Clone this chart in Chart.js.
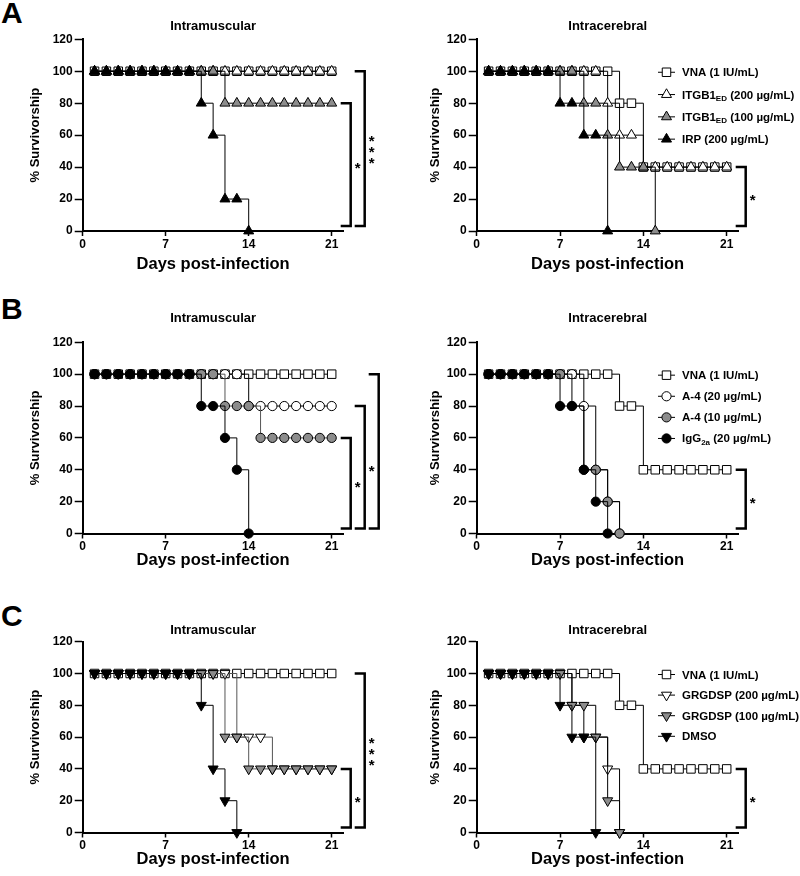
<!DOCTYPE html>
<html>
<head>
<meta charset="utf-8">
<script src="https://cdn.jsdelivr.net/npm/chart.js@4.4.0/dist/chart.umd.min.js"></script>
<style>
  body { margin: 0; background: #fff; }
  #fig { position: relative; width: 800px; height: 876px; overflow: hidden; background: #fff; }
  #fig canvas { position: absolute; }
  .letter { position: absolute; left: 1px; font: bold 30px "Liberation Sans", Arial, sans-serif; line-height: 1; color: #000; }
</style>
</head>
<body>
<div id="fig">
  <div class="letter" style="top:-2px">A</div>
  <div class="letter" style="top:294px">B</div>
  <div class="letter" style="top:601px">C</div>
  <canvas id="aIm" width="400" height="285" style="left:0;top:0"></canvas>
  <canvas id="aIc" width="400" height="285" style="left:400px;top:0"></canvas>
  <canvas id="bIm" width="400" height="295" style="left:0;top:285px"></canvas>
  <canvas id="bIc" width="400" height="295" style="left:400px;top:285px"></canvas>
  <canvas id="cIm" width="400" height="296" style="left:0;top:580px"></canvas>
  <canvas id="cIc" width="400" height="296" style="left:400px;top:580px"></canvas>
</div>
<script>
const FONT = '"Liberation Sans", Arial, Helvetica, sans-serif';
Chart.defaults.font.family = FONT;
Chart.defaults.color = '#000';

// x values and tick labels
const days = [1, 2, 3, 4, 5, 6, 7, 8, 9, 10, 11, 12, 13, 14, 15, 16, 17, 18, 19, 20, 21];
const xTicks = [0, 7, 14, 21];
const yTicks = [0, 20, 40, 60, 80, 100, 120];

// Panel A - ITGB1 ectodomain
const aLabels = ['VNA (1 IU/mL)', 'ITGB1_{ED} (200 µg/mL)', 'ITGB1_{ED} (100 µg/mL)', 'IRP (200 µg/mL)'];
const aImVna = [100, 100, 100, 100, 100, 100, 100, 100, 100, 100, 100, 100, 100, 100, 100, 100, 100, 100, 100, 100, 100];
const aImItgb200 = [100, 100, 100, 100, 100, 100, 100, 100, 100, 100, 100, 100, 100, 100, 100, 100, 100, 100, 100, 100, 100];
const aImItgb100 = [100, 100, 100, 100, 100, 100, 100, 100, 100, 100, 100, 80, 80, 80, 80, 80, 80, 80, 80, 80, 80];
const aImIrp = [100, 100, 100, 100, 100, 100, 100, 100, 100, 80, 60, 20, 20, 0];
const aIcVna = [100, 100, 100, 100, 100, 100, 100, 100, 100, 100, 100, 80, 80, 40, 40, 40, 40, 40, 40, 40, 40];
const aIcItgb200 = [100, 100, 100, 100, 100, 100, 100, 100, 100, 100, 80, 60, 60, 40, 40, 40, 40, 40, 40, 40, 40];
const aIcItgb100 = [100, 100, 100, 100, 100, 100, 100, 100, 80, 80, 60, 40, 40, 40, 0];
const aIcIrp = [100, 100, 100, 100, 100, 100, 80, 80, 60, 60, 0];
const aImSigLevels = [80, 100];
const aImSig = ['*', '***'];
const aIcSigLevels = [40];
const aIcSig = ['*'];

// Panel B - A-4 antibody
const bLabels = ['VNA (1 IU/mL)', 'A-4 (20 µg/mL)', 'A-4 (10 µg/mL)', 'IgG_{2a} (20 µg/mL)'];
const bImVna = [100, 100, 100, 100, 100, 100, 100, 100, 100, 100, 100, 100, 100, 100, 100, 100, 100, 100, 100, 100, 100];
const bImA4hi = [100, 100, 100, 100, 100, 100, 100, 100, 100, 100, 100, 100, 100, 80, 80, 80, 80, 80, 80, 80, 80];
const bImA4lo = [100, 100, 100, 100, 100, 100, 100, 100, 100, 100, 100, 80, 80, 80, 60, 60, 60, 60, 60, 60, 60];
const bImIgg = [100, 100, 100, 100, 100, 100, 100, 100, 100, 80, 80, 60, 40, 0];
const bIcVna = [100, 100, 100, 100, 100, 100, 100, 100, 100, 100, 100, 80, 80, 40, 40, 40, 40, 40, 40, 40, 40];
const bIcA4hi = [100, 100, 100, 100, 100, 100, 100, 100, 80, 40, 20, 0];
const bIcA4lo = [100, 100, 100, 100, 100, 100, 100, 80, 40, 40, 20, 0];
const bIcIgg = [100, 100, 100, 100, 100, 100, 80, 80, 40, 20, 0];
const bImSigLevels = [60, 80, 100];
const bImSig = ['*', '*', ''];
const bIcSigLevels = [40];
const bIcSig = ['*'];

// Panel C - GRGDSP peptide
const cLabels = ['VNA (1 IU/mL)', 'GRGDSP (200 µg/mL)', 'GRGDSP (100 µg/mL)', 'DMSO'];
const cImVna = [100, 100, 100, 100, 100, 100, 100, 100, 100, 100, 100, 100, 100, 100, 100, 100, 100, 100, 100, 100, 100];
const cImG200 = [100, 100, 100, 100, 100, 100, 100, 100, 100, 100, 100, 100, 60, 60, 60, 40, 40, 40, 40, 40, 40];
const cImG100 = [100, 100, 100, 100, 100, 100, 100, 100, 100, 100, 100, 60, 60, 40, 40, 40, 40, 40, 40, 40, 40];
const cImDmso = [100, 100, 100, 100, 100, 100, 100, 100, 100, 80, 40, 20, 0];
const cIcVna = [100, 100, 100, 100, 100, 100, 100, 100, 100, 100, 100, 80, 80, 40, 40, 40, 40, 40, 40, 40, 40];
const cIcG200 = [100, 100, 100, 100, 100, 100, 100, 80, 60, 60, 40, 0];
const cIcG100 = [100, 100, 100, 100, 100, 100, 100, 80, 80, 60, 20, 0];
const cIcDmso = [100, 100, 100, 100, 100, 100, 80, 60, 60, 0];
const cImSigLevels = [40, 100];
const cImSig = ['*', '***'];
const cIcSigLevels = [40];
const cIcSig = ['*'];

const GRAY = '#8c8c8c';
const fills = ['#fff', '#fff', GRAY, '#000'];
const shapes = {
  square: { pointStyle: 'rect', radius: 6, rotation: 0 },
  triUp: { pointStyle: 'triangle', radius: 5.8, rotation: 0 },
  triDown: { pointStyle: 'triangle', radius: 5.8, rotation: 180 },
  circle: { pointStyle: 'circle', radius: 4.6, rotation: 0 }
};

function series(label, values, shape, fillColor, lineColor, order) {
  const s = shapes[shape];
  return {
    label: label,
    data: values.map((v, i) => ({ x: days[i], y: v })),
    stepped: true,
    borderColor: lineColor,
    borderWidth: 1,
    fill: false,
    pointStyle: s.pointStyle,
    pointRadius: s.radius,
    pointRotation: s.rotation,
    pointBackgroundColor: fillColor,
    pointBorderColor: '#000',
    pointBorderWidth: 1,
    clip: false,
    order: order
  };
}

// marker for the legend, same geometry as chart.js point styles
function marker(ctx, style, r, rot, x, y) {
  ctx.beginPath();
  if (style === 'rect') {
    const h = r * Math.SQRT1_2;
    ctx.rect(x - h, y - h, 2 * h, 2 * h);
  } else if (style === 'triangle') {
    let a = rot * Math.PI / 180;
    ctx.moveTo(x + Math.sin(a) * r, y - Math.cos(a) * r);
    a += 2 * Math.PI / 3;
    ctx.lineTo(x + Math.sin(a) * r, y - Math.cos(a) * r);
    a += 2 * Math.PI / 3;
    ctx.lineTo(x + Math.sin(a) * r, y - Math.cos(a) * r);
    ctx.closePath();
  } else {
    ctx.arc(x, y, r, 0, Math.PI * 2);
  }
  ctx.fill();
  ctx.stroke();
}

// label text with _{sub} parts
function richText(ctx, text, x, y) {
  const parts = text.split(/_\{([^}]*)\}/);
  ctx.fillStyle = '#000';
  ctx.textAlign = 'left';
  ctx.textBaseline = 'alphabetic';
  let cx = x;
  parts.forEach((p, k) => {
    const sub = k % 2 === 1;
    ctx.font = 'bold ' + (sub ? 8 : 11.5) + 'px ' + FONT;
    ctx.fillText(p, cx, sub ? y + 6.5 : y + 4);
    cx += ctx.measureText(p).width;
  });
}

// significance brackets + legend
const extras = {
  id: 'extras',
  afterDatasetsDraw(chart, args, opts) {
    const ctx = chart.ctx, xs = chart.scales.x, ys = chart.scales.y;
    const x21 = xs.getPixelForValue(21);
    const yLow = ys.getPixelForValue(0) - 5;
    ctx.save();
    (opts.levels || []).forEach((level, i) => {
      const left = x21 + 9 + i * 14, right = left + 10;
      const top = ys.getPixelForValue(level);
      ctx.strokeStyle = '#000';
      ctx.lineWidth = 2.5;
      ctx.lineJoin = 'miter';
      ctx.beginPath();
      ctx.moveTo(left, top);
      ctx.lineTo(right, top);
      ctx.lineTo(right, yLow);
      ctx.lineTo(left, yLow);
      ctx.stroke();
      const label = opts.sig[i];
      ctx.fillStyle = '#000';
      ctx.font = 'bold 15px ' + FONT;
      ctx.textAlign = 'center';
      ctx.textBaseline = 'alphabetic';
      const mid = (top + yLow) / 2;
      for (let k = 0; k < label.length; k++) {
        const cy = mid + (k - (label.length - 1) / 2) * 11;
        ctx.fillText('*', right + 7, cy + 8.8);
      }
    });
    if (opts.legend) {
      const L = opts.legend;
      const y100 = ys.getPixelForValue(100);
      chart.data.datasets.forEach((ds, i) => {
        const yy = y100 + 1 + i * L.step;
        ctx.strokeStyle = ds.borderColor;
        ctx.lineWidth = 1;
        ctx.beginPath();
        ctx.moveTo(L.x, yy);
        ctx.lineTo(L.x + 17, yy);
        ctx.stroke();
        ctx.fillStyle = ds.pointBackgroundColor;
        ctx.strokeStyle = '#000';
        marker(ctx, ds.pointStyle, ds.pointRadius, ds.pointRotation, L.x + 8.5, yy);
        richText(ctx, ds.label, L.x + 24, yy);
      });
    }
    ctx.restore();
  }
};

function panel(id, cfg) {
  const xAxisH = cfg.height - cfg.areaBottom;
  return new Chart(document.getElementById(id), {
    type: 'line',
    data: {
      datasets: cfg.values.map((vals, i) =>
        series(cfg.labels[i], vals, cfg.shapes[i], fills[i], cfg.lines[i], 4 - i))
    },
    options: {
      responsive: false,
      animation: false,
      events: [],
      devicePixelRatio: 1,
      layout: { padding: { left: 0, right: cfg.padRight, top: 0, bottom: 0 } },
      plugins: {
        legend: { display: false },
        tooltip: { enabled: false },
        title: {
          display: true,
          fullSize: false,
          text: cfg.title,
          color: '#000',
          font: { size: 13, weight: 'bold' },
          padding: { top: cfg.titleY - 7.8, bottom: cfg.areaTop - cfg.titleY - 7.8 }
        },
        extras: { levels: cfg.levels, sig: cfg.sig, legend: cfg.legend }
      },
      scales: {
        x: {
          type: 'linear',
          min: 0,
          max: 22,
          afterBuildTicks: s => { s.ticks = xTicks.map(v => ({ value: v })); },
          afterFit: s => { s.height = xAxisH; },
          grid: { drawOnChartArea: false, tickLength: 5, tickWidth: 1.5, color: '#000', tickColor: '#000' },
          border: { display: true, color: '#000', width: 2 },
          ticks: { color: '#000', font: { size: 12, weight: 'bold' }, padding: 1, maxRotation: 0, autoSkip: false },
          title: {
            display: true,
            text: 'Days post-infection',
            color: '#000',
            font: { size: 16.5, weight: 'bold' },
            padding: { top: 0, bottom: xAxisH - 9.9 - (cfg.xTitleY - cfg.areaBottom) }
          }
        },
        y: {
          type: 'linear',
          min: 0,
          max: 120,
          afterBuildTicks: s => { s.ticks = yTicks.map(v => ({ value: v })); },
          afterFit: s => { s.width = cfg.areaLeft; },
          grid: { drawOnChartArea: false, tickLength: 8, tickWidth: 1.5, color: '#000', tickColor: '#000' },
          border: { display: true, color: '#000', width: 2 },
          ticks: { color: '#000', font: { size: 12, weight: 'bold' }, padding: 2 },
          title: {
            display: true,
            text: '% Survivorship',
            color: '#000',
            font: { size: 13, weight: 'bold' },
            padding: { top: 35 - 7.8, bottom: 0 }
          }
        }
      }
    },
    plugins: [extras]
  });
}

const leftSide = { areaLeft: 82.7, padRight: 56.45, title: 'Intramuscular' };
const rightSide = { areaLeft: 76.7, padRight: 61.4, title: 'Intracerebral' };
const rowA = { height: 285, areaTop: 39.3, areaBottom: 231, titleY: 26.7, xTitleY: 264.5 };
const rowB = { height: 295, areaTop: 57.3, areaBottom: 248.5, titleY: 33.3, xTitleY: 275 };
const rowC = { height: 296, areaTop: 61.7, areaBottom: 252.5, titleY: 50, xTitleY: 279 };
const black = ['#000', '#000', '#000', '#000'];

panel('aIm', Object.assign({}, leftSide, rowA, {
  labels: aLabels, values: [aImVna, aImItgb200, aImItgb100, aImIrp],
  shapes: ['square', 'triUp', 'triUp', 'triUp'], lines: black,
  levels: aImSigLevels, sig: aImSig
}));
panel('aIc', Object.assign({}, rightSide, rowA, {
  labels: aLabels, values: [aIcVna, aIcItgb200, aIcItgb100, aIcIrp],
  shapes: ['square', 'triUp', 'triUp', 'triUp'], lines: black,
  levels: aIcSigLevels, sig: aIcSig, legend: { x: 258, step: 22.3 }
}));
panel('bIm', Object.assign({}, leftSide, rowB, {
  labels: bLabels, values: [bImVna, bImA4hi, bImA4lo, bImIgg],
  shapes: ['square', 'circle', 'circle', 'circle'], lines: ['#000', '#000', '#555', '#000'],
  levels: bImSigLevels, sig: bImSig
}));
panel('bIc', Object.assign({}, rightSide, rowB, {
  labels: bLabels, values: [bIcVna, bIcA4hi, bIcA4lo, bIcIgg],
  shapes: ['square', 'circle', 'circle', 'circle'], lines: black,
  levels: bIcSigLevels, sig: bIcSig, legend: { x: 258, step: 21.1 }
}));
panel('cIm', Object.assign({}, leftSide, rowC, {
  labels: cLabels, values: [cImVna, cImG200, cImG100, cImDmso],
  shapes: ['square', 'triDown', 'triDown', 'triDown'], lines: ['#000', '#555', '#555', '#000'],
  levels: cImSigLevels, sig: cImSig
}));
panel('cIc', Object.assign({}, rightSide, rowC, {
  labels: cLabels, values: [cIcVna, cIcG200, cIcG100, cIcDmso],
  shapes: ['square', 'triDown', 'triDown', 'triDown'], lines: black,
  levels: cIcSigLevels, sig: cIcSig, legend: { x: 258, step: 20.6 }
}));
</script>
</body>
</html>
